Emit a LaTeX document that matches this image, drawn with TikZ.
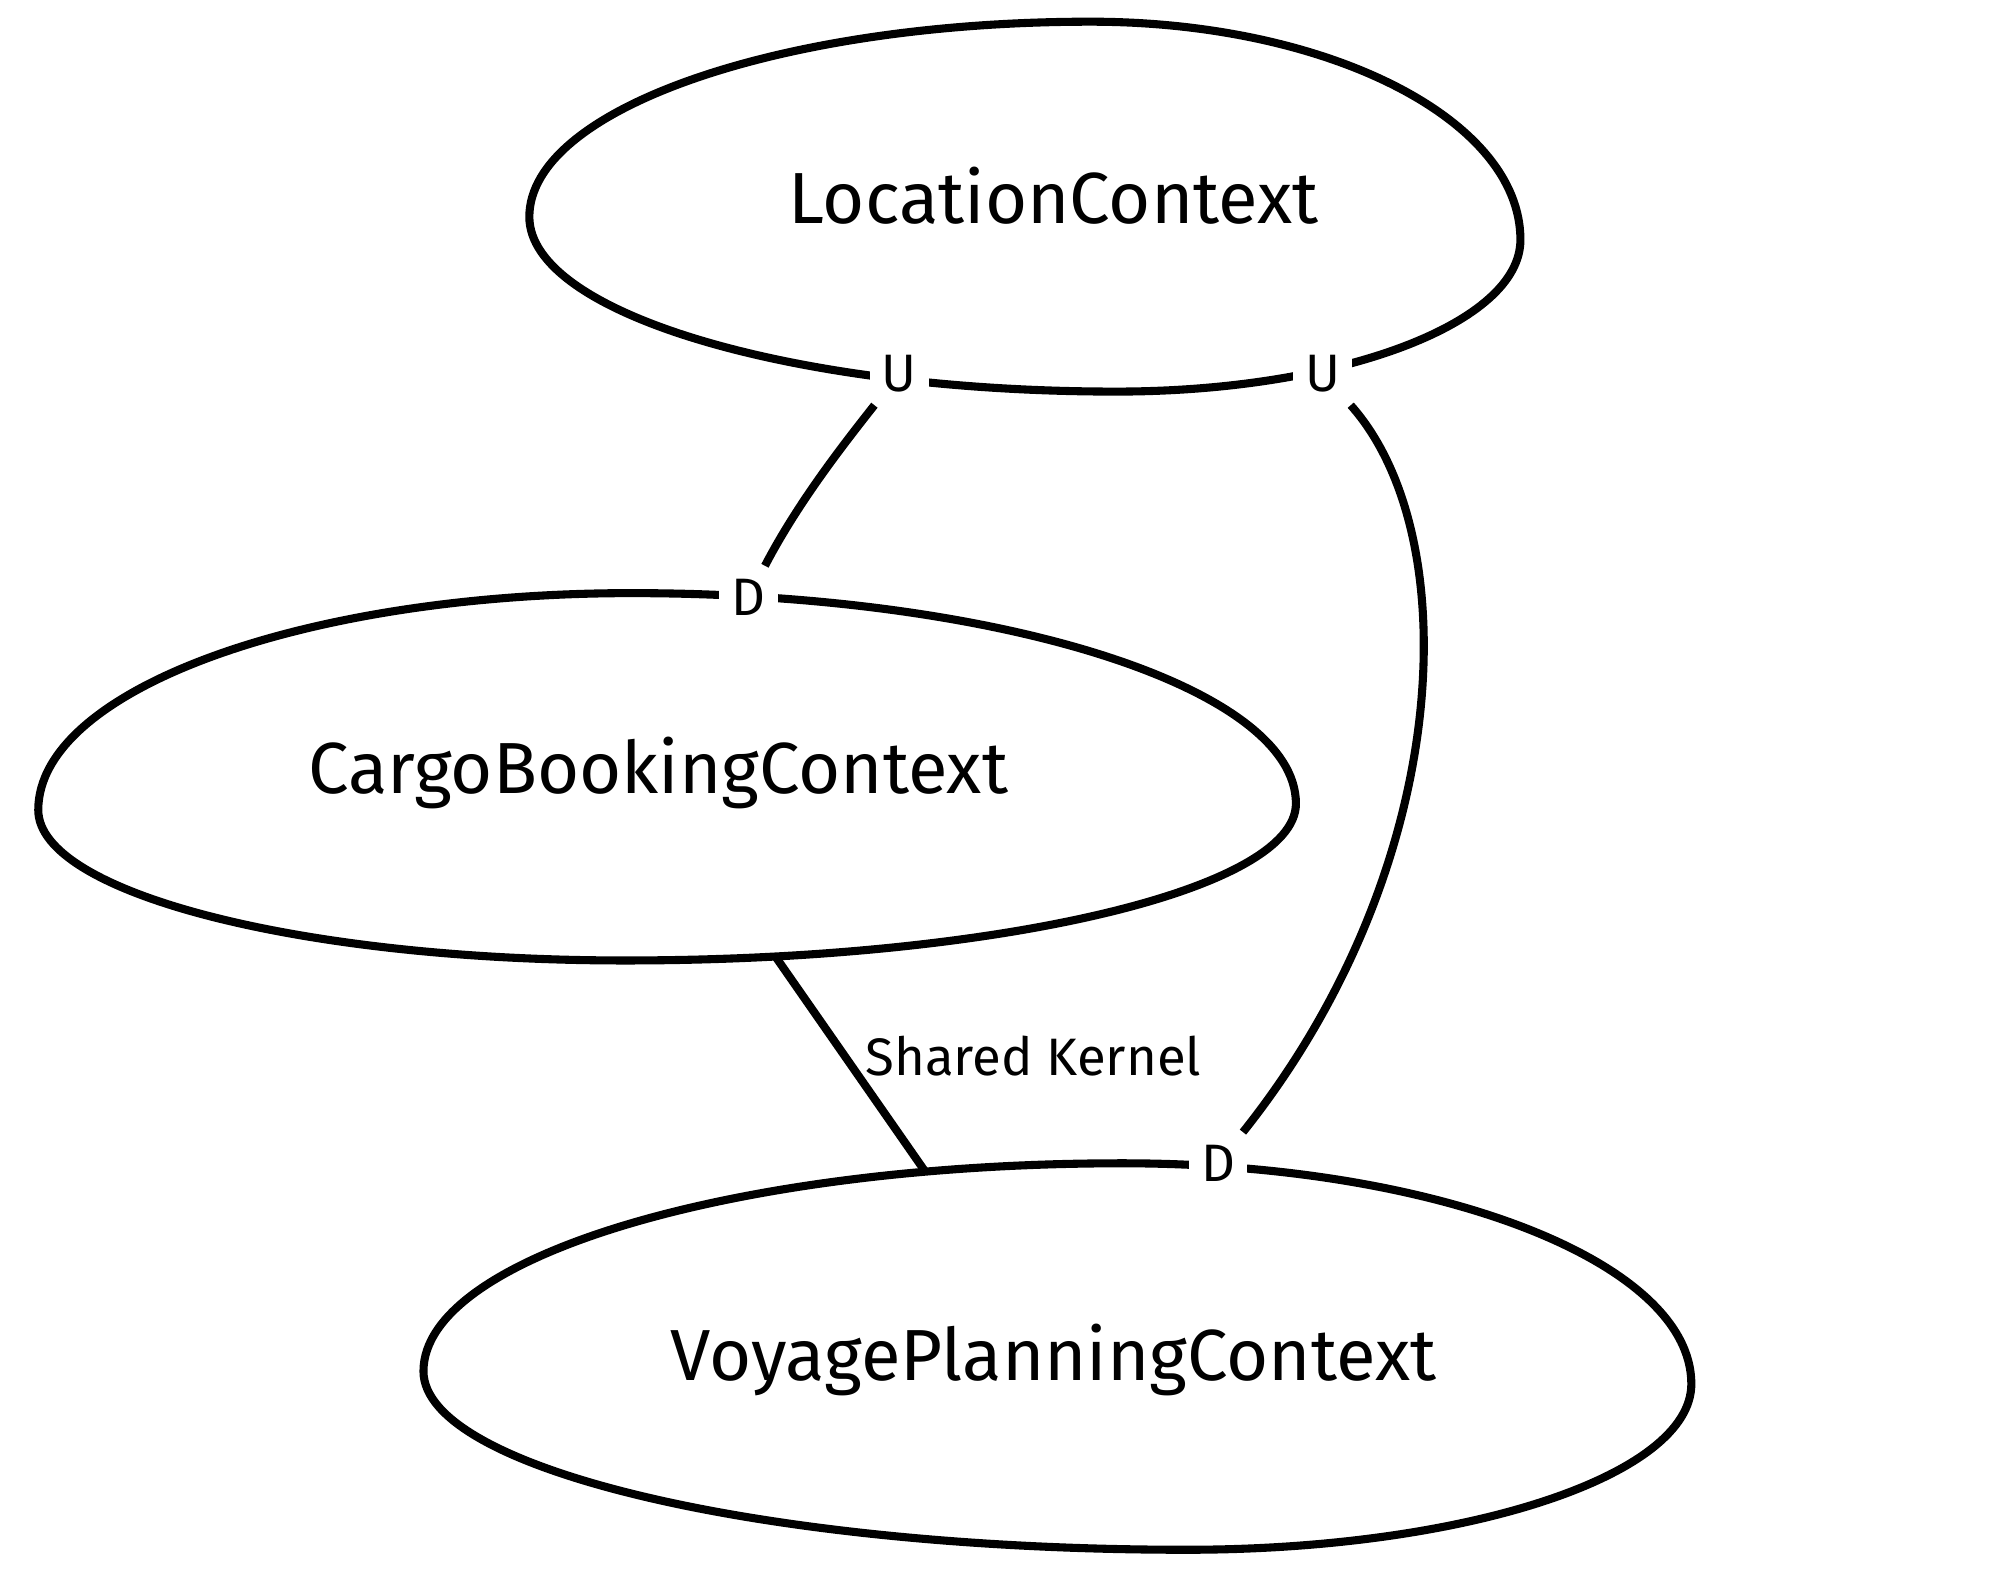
\documentclass[tikz,border=0pt]{standalone}
\usepackage{fontspec}
\setmainfont{Fira Sans}
\begin{document}
\begin{tikzpicture}[x=0.012755cm, y=-0.012755cm,
  outline/.style={line width=2.3pt, line join=round},
  ctxname/.style={font=\fontsize{20.6}{24}\selectfont, inner sep=0pt, anchor=base},
  role/.style={font=\fontsize{15}{17}\selectfont, fill=white, inner sep=3.5pt},
  link/.style={line width=2.3pt},
  relname/.style={font=\fontsize{15}{17}\selectfont, inner sep=0pt, anchor=base west}]
\useasboundingbox (0,0) rectangle (1568,1239);

% context outlines: four quarter curves each
\draw[outline] (415,170) .. controls (415,85.5) and (612,17) .. (855,17)
  .. controls (1041,17) and (1192,93.6) .. (1192,188)
  .. controls (1192,253.7) and (1050,307) .. (875,307)
  .. controls (621,307) and (415,245.7) .. cycle;
\draw[outline] (30,635) .. controls (30,541) and (238,465) .. (495,465)
  .. controls (783,465) and (1016,539) .. (1016,630)
  .. controls (1016,698) and (780,753) .. (490,753)
  .. controls (236,753) and (30,700) .. cycle;
\draw[outline] (332,1075) .. controls (332,985) and (577,912) .. (880,912)
  .. controls (1126,912) and (1326,989) .. (1326,1085)
  .. controls (1326,1157) and (1149,1215) .. (930,1215)
  .. controls (600,1215) and (332,1152) .. cycle;

% context names
\node[ctxname] (loc) at (826,175) {LocationContext};
\node[ctxname] (cargo) at (516,622) {CargoBookingContext};
\node[ctxname] (voyage) at (826,1082) {VoyagePlanningContext};

% upstream / downstream markers
\node[role] (u1) at (705,293) {U};
\node[role] (u2) at (1037,293) {U};
\node[role] (d1) at (587,468) {D};
\node[role] (d2) at (955,912) {D};

% relationships
\draw[link] (u1) .. controls (660,350) and (625,395) .. (d1);
\draw[link] (u2) .. controls (1150,420) and (1140,680) .. (d2);

\coordinate (sk-a) at (608,750);
\coordinate (sk-b) at (725,918);
\draw[link] (sk-a) -- (sk-b);
\node[relname] (sk) at (678,843) {Shared Kernel};
\end{tikzpicture}
\end{document}
